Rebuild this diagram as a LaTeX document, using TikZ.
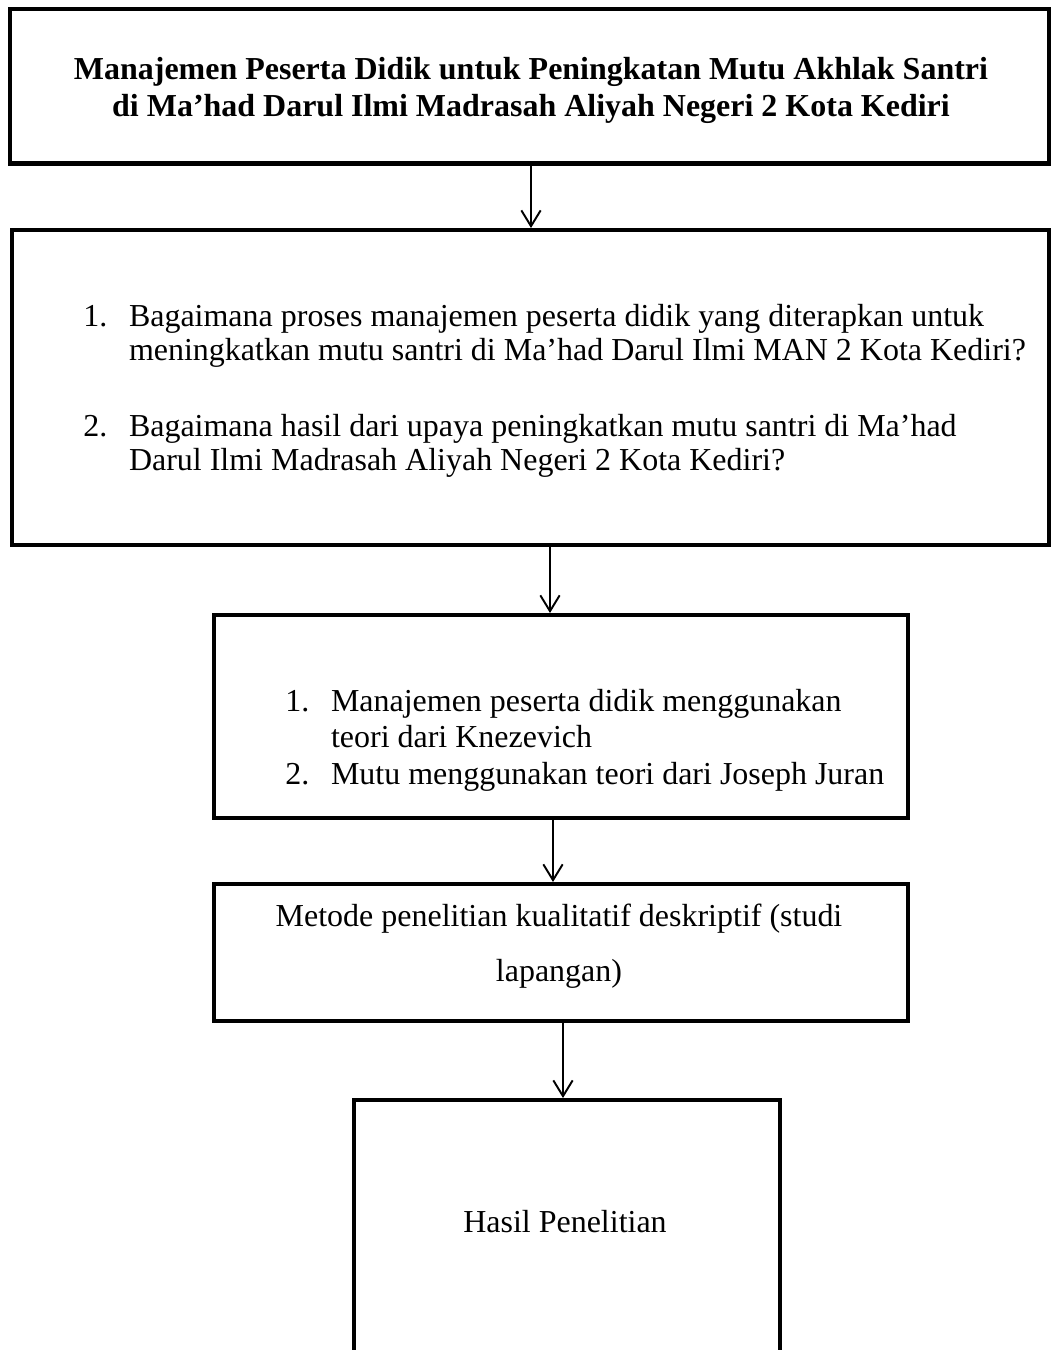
\documentclass[tikz,border=0pt]{standalone}
\usepackage{fontspec}
\setmainfont{Liberation Serif}
\usetikzlibrary{arrows.meta, positioning}

\begin{document}
\begin{tikzpicture}[x=0.02cm, y=-0.02cm,
        box/.style={draw, line width=2.3pt, inner sep=0pt},
        txt/.style={inner sep=0pt, font=\fontsize{18.2}{19.5}\selectfont},
        link/.style={-{Straight Barb[length=9pt, width=11pt, line width=1.1pt]}, line width=1.1pt}
    ]

    % Frame
    \useasboundingbox (0,0) rectangle (1053,1350);
    \clip (0,0) rectangle (1053,1350);

    % Boxes
    \node[box, minimum width=20.78cm, minimum height=3.10cm] (judul) at (529.5,86) {};
    \node[box, minimum width=20.74cm, minimum height=6.30cm] (rumusan) at (530.5,387.5) {};
    \node[box, minimum width=13.88cm, minimum height=4.06cm] (teori) at (561,716.5) {};
    \node[box, minimum width=13.88cm, minimum height=2.74cm] (metode) at (561,952.5) {};
    \node[box, minimum width=8.52cm, minimum height=8cm] (hasil) at (567,1300) {};

    % Texts
    \node[txt, anchor=base] (tjudul) at (531,79) {\bfseries
        \begin{tabular}[t]{@{}c@{}}
            Manajemen Peserta Didik untuk Peningkatan Mutu Akhlak Santri\\[2pt]
            di Ma’had Darul Ilmi Madrasah Aliyah Negeri 2 Kota Kediri
        \end{tabular}};
    \node[txt, anchor=base west] (trumusan) at (83,326) {%
        \begin{tabular}[t]{@{}p{26pt}@{}l@{}}
            1. & Bagaimana proses manajemen peserta didik yang diterapkan untuk\\
               & meningkatkan mutu santri di Ma’had Darul Ilmi MAN 2 Kota Kediri?\\[24pt]
            2. & Bagaimana hasil dari upaya peningkatkan mutu santri di Ma’had\\
               & Darul Ilmi Madrasah Aliyah Negeri 2 Kota Kediri?
        \end{tabular}};
    \node[txt, anchor=base west] (tteori) at (285,711) {%
        \begin{tabular}[t]{@{}p{26pt}@{}l@{}}
            1. & Manajemen peserta didik menggunakan\\[1.3pt]
               & teori dari Knezevich\\[1.3pt]
            2. & Mutu menggunakan teori dari Joseph Juran
        \end{tabular}};
    \node[txt, anchor=base] (tmetode) at (559,926) {%
        \begin{tabular}[t]{@{}c@{}}
            Metode penelitian kualitatif deskriptif (studi\\[12pt]
            lapangan)
        \end{tabular}};
    \node[txt, anchor=base] (thasil) at (565,1232) {Hasil Penelitian};

    % Connectors
    \coordinate (x1) at (531,0);
    \coordinate (x2) at (550,0);
    \coordinate (x3) at (553,0);
    \coordinate (x4) at (563,0);
    \draw[link] (judul.south -| x1) -- (rumusan.north -| x1);
    \draw[link] (rumusan.south -| x2) -- (teori.north -| x2);
    \draw[link] (teori.south -| x3) -- (metode.north -| x3);
    \draw[link] (metode.south -| x4) -- (hasil.north -| x4);

\end{tikzpicture}
\end{document}
